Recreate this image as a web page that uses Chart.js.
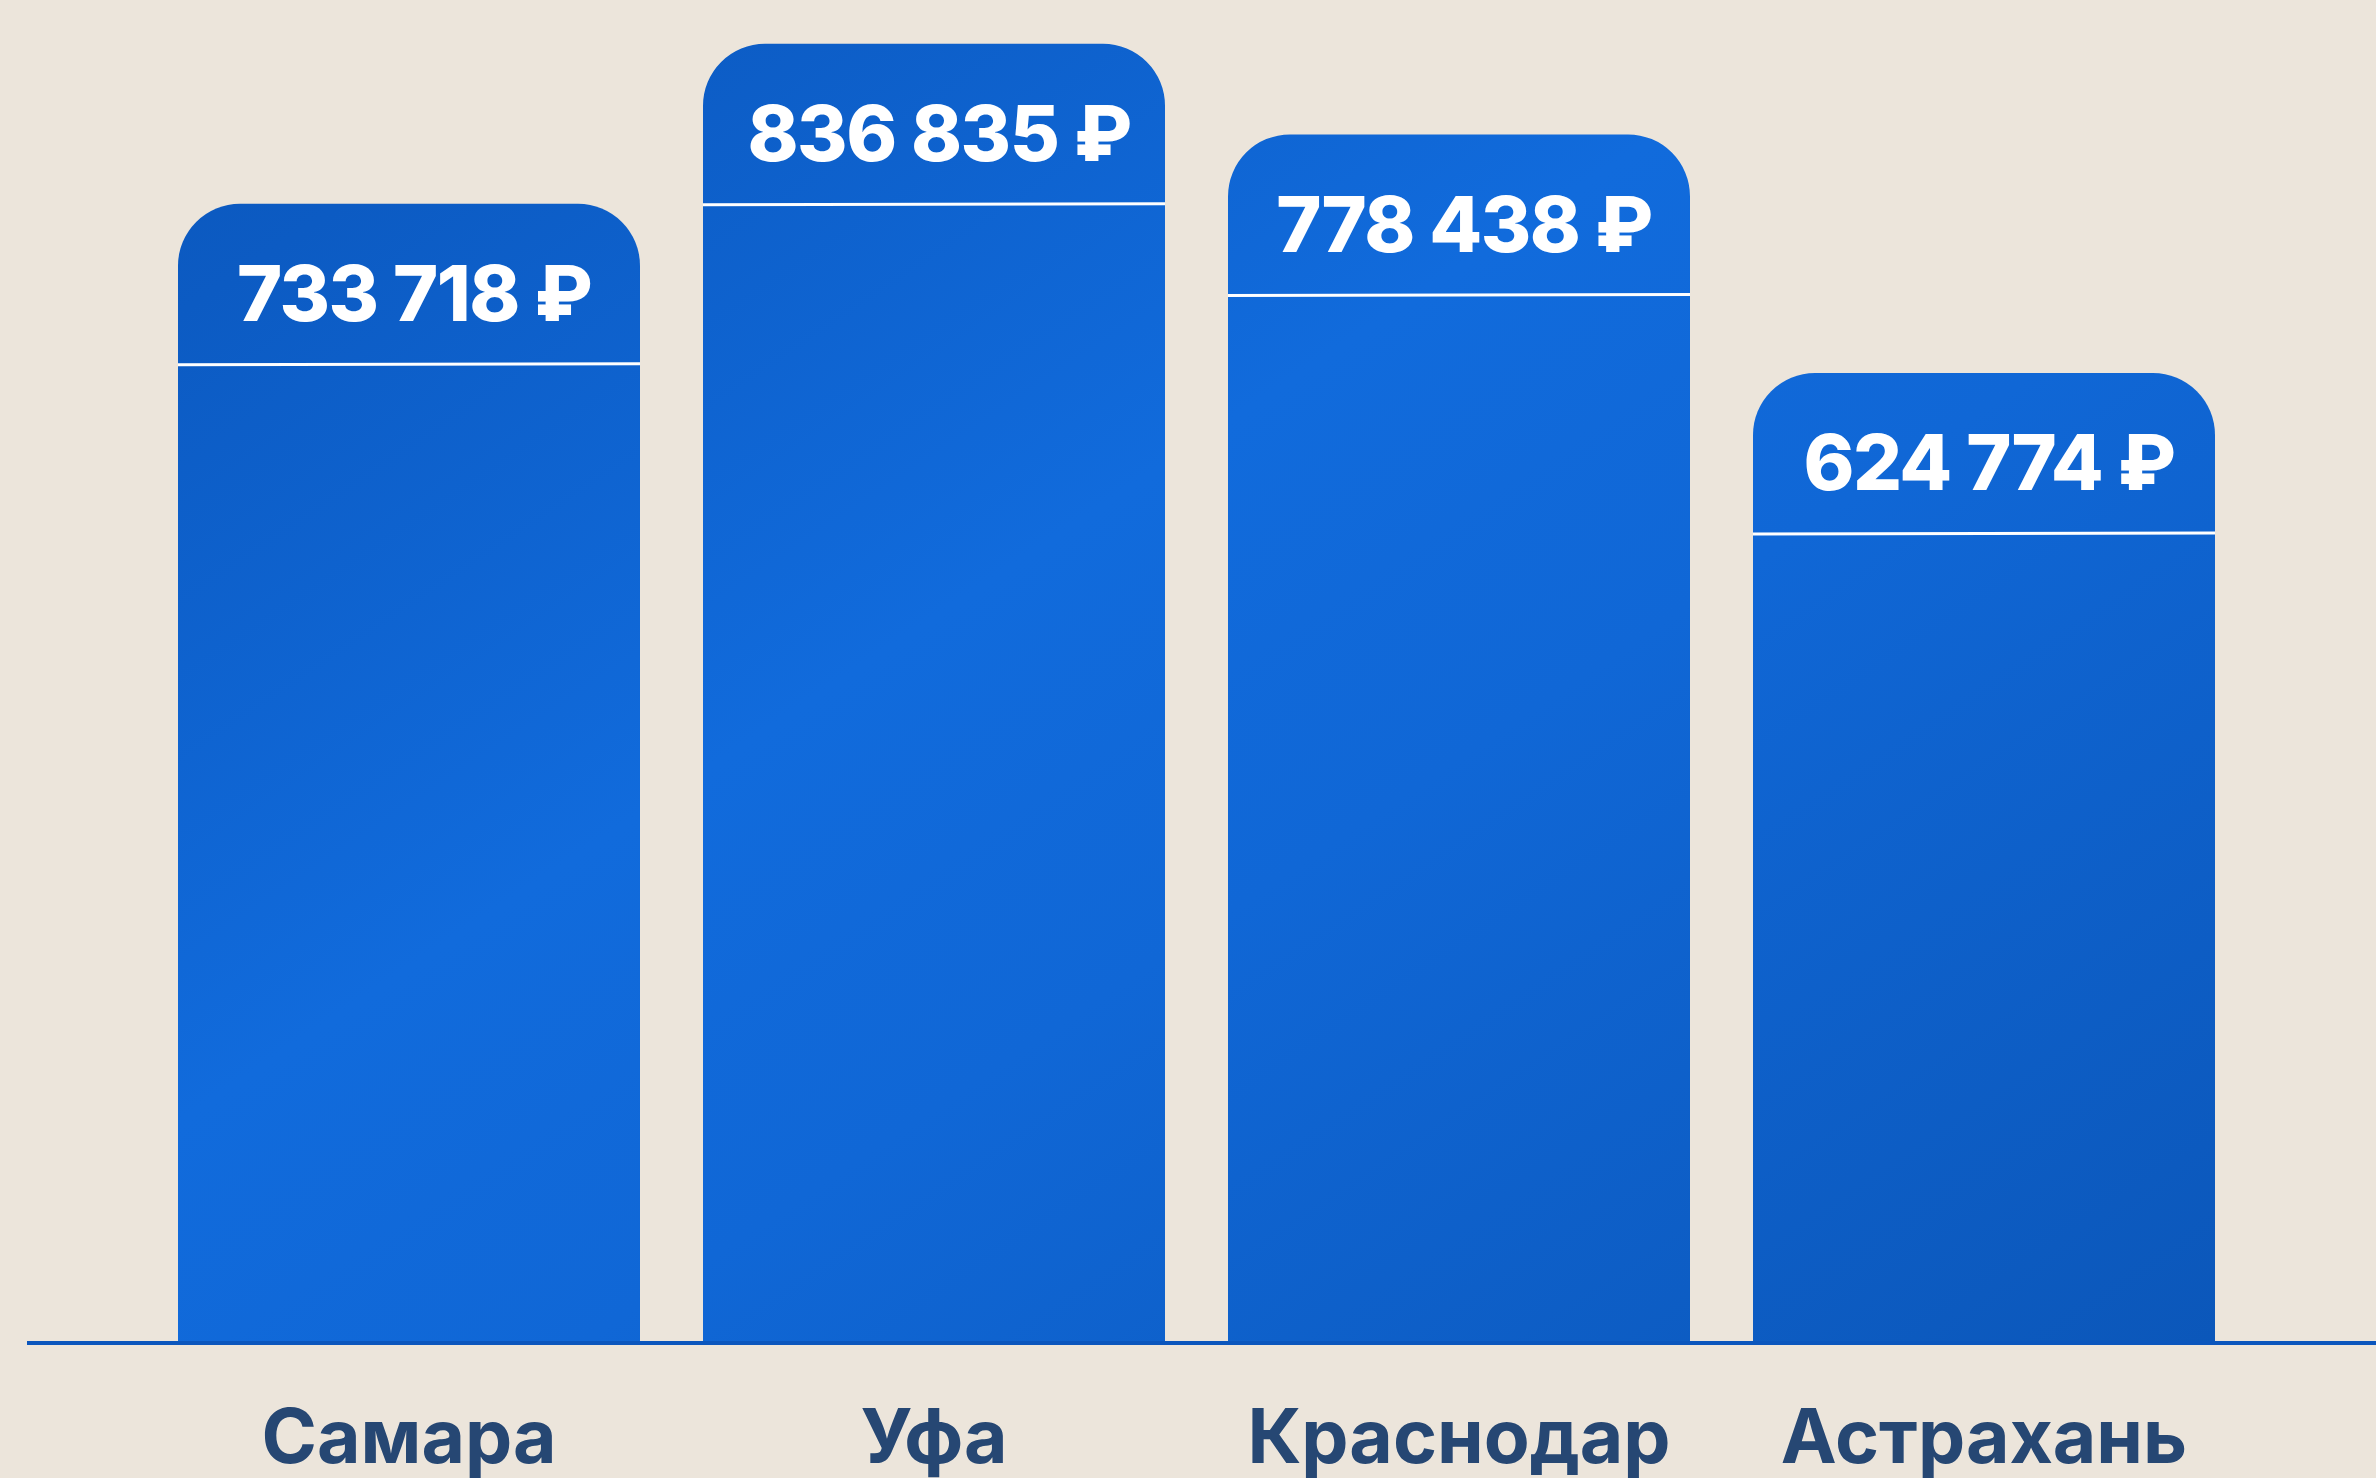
<!DOCTYPE html>
<html>
<head>
<meta charset="utf-8">
<script src="https://cdn.jsdelivr.net/npm/chart.js@4.4.1/dist/chart.umd.min.js"></script>
<style>
  html, body { margin: 0; padding: 0; background: #ece5db; }
  #wrap { width: 2376px; height: 1478px; position: relative; }
  canvas { display: block; }
</style>
</head>
<body>
<div id="wrap"><canvas id="c" width="2376" height="1478"></canvas></div>
<script>
// ---- Data ----
const categories = ['Самара', 'Уфа', 'Краснодар', 'Астрахань'];
const values = [733718, 836835, 778438, 624774];
const currency = '₽';

const yMin = 0;
const yMax = 865000;

function fmt(v) {
  return String(v).replace(/\B(?=(\d{3})+(?!\d))/g, ' ') + ' ' + currency;
}

const FONT = 'Inter, "Open Sans", "DejaVu Sans", sans-serif';

function barGradient(context) {
  const chart = context.chart;
  const c = chart.ctx;
  const g = c.createLinearGradient(0, 0, 1332, 1997);
  g.addColorStop(0.0, '#0a55b8');
  g.addColorStop(0.15, '#0c5bc3');
  g.addColorStop(0.43, '#116bdc');
  g.addColorStop(0.6, '#1067d6');
  g.addColorStop(1.0, '#0b56b8');
  return g;
}

const decorPlugin = {
  id: 'decor',
  afterDatasetsDraw(chart) {
    const c = chart.ctx;
    const meta = chart.getDatasetMeta(0);
    const area = chart.chartArea;
    c.save();
    // baseline
    c.strokeStyle = '#0b56bd';
    c.lineWidth = 4;
    c.beginPath();
    c.moveTo(27, area.bottom);
    c.lineTo(chart.width, area.bottom);
    c.stroke();
    meta.data.forEach((bar, i) => {
      const half = bar.width / 2;
      // header divider
      c.strokeStyle = '#ffffff';
      c.lineWidth = 3;
      c.beginPath();
      c.moveTo(bar.x - half, bar.y + 161);
      c.lineTo(bar.x + half, bar.y + 160);
      c.stroke();
      // value label
      c.fillStyle = '#ffffff';
      c.font = '800 77px ' + FONT;
      if ('letterSpacing' in c) c.letterSpacing = '-1.5px';
      c.textAlign = 'center';
      c.textBaseline = 'middle';
      c.fillText(fmt(values[i]), bar.x + 5, bar.y + 94);
    });
    c.restore();
  }
};

new Chart(document.getElementById('c'), {
  type: 'bar',
  data: {
    labels: categories,
    datasets: [{
      data: values,
      backgroundColor: barGradient,
      borderRadius: { topLeft: 62, topRight: 62, bottomLeft: 0, bottomRight: 0 },
      borderSkipped: 'bottom',
      categoryPercentage: 1.0,
      barPercentage: 0.88
    }]
  },
  options: {
    responsive: false,
    animation: false,
    devicePixelRatio: 1,
    layout: { padding: { left: 146.5, right: 129.5, top: 0, bottom: 0 } },
    plugins: { legend: { display: false }, tooltip: { enabled: false } },
    scales: {
      x: {
        grid: { display: false, drawTicks: false, tickLength: 0 },
        border: { display: false },
        ticks: {
          color: '#264773',
          font: { family: FONT, size: 75, weight: '700' },
          padding: 52,
          maxRotation: 0
        },
        afterFit(scale) { scale.height = 135; }
      },
      y: {
        display: false,
        min: yMin,
        max: yMax
      }
    }
  },
  plugins: [decorPlugin]
});
</script>
</body>
</html>
